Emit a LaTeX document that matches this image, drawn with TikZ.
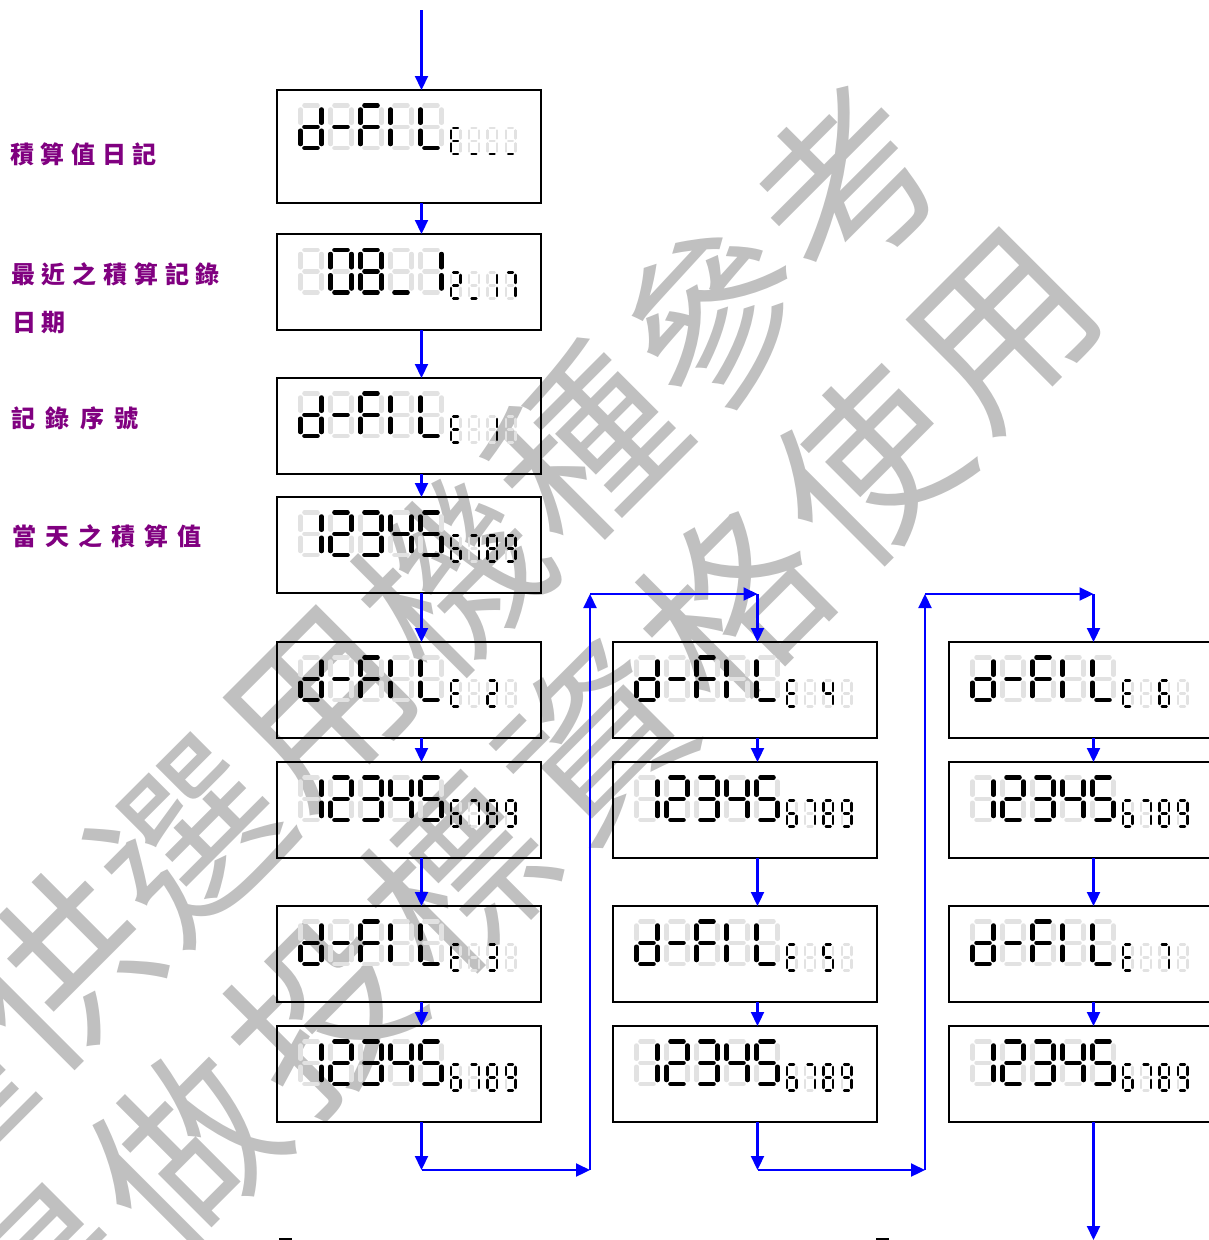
\documentclass[tikz,border=0pt]{standalone}
\usepackage{fontspec}
\newfontfamily\cjk{Noto Sans CJK TC}
\usetikzlibrary{arrows.meta}
\definecolor{wmgray}{HTML}{C0C0C0}
\definecolor{lcdghost}{HTML}{E2E2E2}
\definecolor{lblpurple}{HTML}{800080}
\definecolor{flowblue}{HTML}{0000FF}
\newcommand\segdraw[1]{\draw #1;}
\def\gx{.19}\def\gy{.094}
\def\sega{(\gx,0)--(1-\gx,0)}
\def\segb{(1,\gy)--(1,.5-\gy)}
\def\segc{(1,.5+\gy)--(1,1-\gy)}
\def\segd{(\gx,1)--(1-\gx,1)}
\def\sege{(0,.5+\gy)--(0,1-\gy)}
\def\segf{(0,\gy)--(0,.5-\gy)}
\def\segg{(\gx,.5)--(1-\gx,.5)}
\def\segnone{}
\def\DGnone{none}
\def\DGd{b,c,d,e,g}
\def\DGdash{g}
\def\DGF{a,e,f,g}
\def\DGI{e,f}
\def\DGL{d,e,f}
\def\DGE{a,d,e,f,g}
\def\DGund{d}
\def\DGzero{a,b,c,d,e,f}
\def\DGone{b,c}
\def\DGtwo{a,b,d,e,g}
\def\DGthree{a,b,c,d,g}
\def\DGfour{b,c,f,g}
\def\DGfive{a,c,d,f,g}
\def\DGsix{a,c,d,e,f,g}
\def\DGseven{a,b,c}
\def\DGeight{a,b,c,d,e,f,g}
\def\DGnine{a,b,c,d,f,g}
\newcommand\lcdcell[6]{%
 \begin{scope}[shift={(#1,#2)},x=#3pt,y=-#4pt,line width=#5pt,line cap=round]
  \begin{scope}[color=lcdghost]
   \foreach \s in {a,b,c,d,e,f,g}{\expandafter\segdraw\csname seg\s\endcsname}
  \end{scope}
  \begin{scope}[color=black]
   \foreach \s in #6{\expandafter\segdraw\csname seg\s\endcsname}
  \end{scope}
 \end{scope}}
\newcommand\bigrow[7]{%
 \def\gx{.19}\def\gy{.094}%
 \lcdcell{#1+23.5}{#2+15.5}{21}{42.5}{4.5}{#3}
 \lcdcell{#1+53.5}{#2+15.5}{21}{42.5}{4.5}{#4}
 \lcdcell{#1+83.5}{#2+15.5}{21}{42.5}{4.5}{#5}
 \lcdcell{#1+113.5}{#2+15.5}{21}{42.5}{4.5}{#6}
 \lcdcell{#1+143.5}{#2+15.5}{21}{42.5}{4.5}{#7}}
\newcommand\smallrow[6]{%
 \def\gx{.25}\def\gy{.093}%
 \lcdcell{#1+173.8}{#2+38.5}{9.6}{25.9}{2.4}{#3}
 \lcdcell{#1+192.1}{#2+38.5}{9.6}{25.9}{2.4}{#4}
 \lcdcell{#1+210.4}{#2+38.5}{9.6}{25.9}{2.4}{#5}
 \lcdcell{#1+228.7}{#2+38.5}{9.6}{25.9}{2.4}{#6}}
\newcommand\numrow[2]{%
 \bigrow{#1}{#2}{\DGone}{\DGtwo}{\DGthree}{\DGfour}{\DGfive}
 \smallrow{#1}{#2}{\DGsix}{\DGseven}{\DGeight}{\DGnine}}
\newcommand\filrow[3]{%
 \bigrow{#1}{#2}{\DGd}{\DGdash}{\DGF}{\DGI}{\DGL}
 \smallrow{#1}{#2}{\DGE}{\DGnone}{#3}{\DGnone}}
\tikzset{
 lcdbox/.style={draw=black,line width=1.8pt,minimum width=264pt,inner sep=0pt,outer sep=0pt},
 flow/.style={draw=flowblue,line width=2.2pt,-{Triangle[length=14pt,width=13pt]}},
 lbl/.style={text=lblpurple,font=\cjk\bfseries\fontsize{24pt}{28pt}\selectfont,anchor=west,inner sep=0pt},
 wm/.style={text=wmgray,font=\cjk\fontsize{180pt}{180pt}\selectfont,rotate=45,inner sep=0pt}
}
\begin{document}
\begin{tikzpicture}[x=1pt,y=-1pt]
\useasboundingbox (0,0) rectangle (1209,1240);
\begin{scope}
\clip (0,0) rectangle (1209,1240);
% watermark line 1
\node[wm] (wa0) at (-71,1101) {僅};
\node[wm] (wa1) at (60,970) {供};
\node[wm] (wa2) at (191,839) {選};
\node[wm] (wa3) at (322,708) {用};
\node[wm] (wa4) at (453,577) {機};
\node[wm] (wa5) at (584,446) {種};
\node[wm] (wa6) at (715,315) {參};
\node[wm] (wa7) at (846,184) {考};
% watermark line 2
\node[wm] (wb0) at (48,1287) {得};
\node[wm] (wb1) at (185,1150) {做};
\node[wm] (wb2) at (322,1013) {投};
\node[wm] (wb3) at (458,877) {標};
\node[wm] (wb4) at (595,740) {資};
\node[wm] (wb5) at (732,603) {格};
\node[wm] (wb6) at (868,467) {使};
\node[wm] (wb7) at (1005,330) {用};
\end{scope}

% labels
\node[lbl] (l1) at (10,154.5) {積\kern6.7pt 算\kern6.7pt 值\kern6.7pt 日\kern6.7pt 記};
\node[lbl] (l2) at (11,274.5) {最\kern6.8pt 近\kern6.8pt 之\kern6.8pt 積\kern6.8pt 算\kern6.8pt 記\kern6.8pt 錄};
\node[lbl] (l3) at (12,323) {日\kern5pt 期};
\node[lbl] (l4) at (11,418.5) {記\kern10.5pt 錄\kern10.5pt 序\kern10.5pt 號};
\node[lbl] (l5) at (12,536) {當\kern9pt 天\kern9pt 之\kern9pt 積\kern9pt 算\kern9pt 值};

% boxes column 1
\node[lcdbox,minimum height=113pt] (c1r0) at (409,146.5) {};
\node[lcdbox,minimum height=96pt] (c1r1) at (409,282) {};
\node[lcdbox,minimum height=96pt] (c1r2) at (409,426) {};
\node[lcdbox,minimum height=96pt] (c1r3) at (409,545) {};
\node[lcdbox,minimum height=96pt] (c1r4) at (409,690) {};
\node[lcdbox,minimum height=96pt] (c1r5) at (409,810) {};
\node[lcdbox,minimum height=96pt] (c1r6) at (409,954) {};
\node[lcdbox,minimum height=96pt] (c1r7) at (409,1074) {};
% column 2
\node[lcdbox,minimum height=96pt] (c2r4) at (745,690) {};
\node[lcdbox,minimum height=96pt] (c2r5) at (745,810) {};
\node[lcdbox,minimum height=96pt] (c2r6) at (745,954) {};
\node[lcdbox,minimum height=96pt] (c2r7) at (745,1074) {};
% column 3
\node[lcdbox,minimum height=96pt] (c3r4) at (1081,690) {};
\node[lcdbox,minimum height=96pt] (c3r5) at (1081,810) {};
\node[lcdbox,minimum height=96pt] (c3r6) at (1081,954) {};
\node[lcdbox,minimum height=96pt] (c3r7) at (1081,1074) {};

% displays
\bigrow{277}{90}{\DGd}{\DGdash}{\DGF}{\DGI}{\DGL}
\smallrow{277}{89.5}{\DGE}{\DGund}{\DGund}{\DGund}
\bigrow{277}{234.5}{\DGnone}{\DGzero}{\DGeight}{\DGund}{\DGone}
\smallrow{277}{234}{\DGtwo}{\DGund}{\DGone}{\DGseven}
\filrow{277}{378}{\DGone}
\numrow{277}{497}
\filrow{277}{642}{\DGtwo}
\numrow{277}{762}
\filrow{277}{906}{\DGthree}
\numrow{277}{1026}
\filrow{613}{642}{\DGfour}
\numrow{613}{762}
\filrow{613}{906}{\DGfive}
\numrow{613}{1026}
\filrow{949}{642}{\DGsix}
\numrow{949}{762}
\filrow{949}{906}{\DGseven}
\numrow{949}{1026}

% connectors
\coordinate (k1) at (421.5,10);
\coordinate (k2) at (757.5,594);
\coordinate (k3) at (1093.5,594);
\draw[flow] (k1) -- (c1r0.north -| k1);
\draw[flow] (c1r0.south -| k1) -- (c1r1.north -| k1);
\draw[flow] (c1r1.south -| k1) -- (c1r2.north -| k1);
\draw[flow] (c1r2.south -| k1) -- (c1r3.north -| k1);
\draw[flow] (c1r3.south -| k1) -- (c1r4.north -| k1);
\draw[flow] (c1r4.south -| k1) -- (c1r5.north -| k1);
\draw[flow] (c1r5.south -| k1) -- (c1r6.north -| k1);
\draw[flow] (c1r6.south -| k1) -- (c1r7.north -| k1);
\coordinate (t1) at (421.5,1170);
\coordinate (u1) at (590,1170);
\coordinate (v1) at (590,594);
\draw[flow] (c1r7.south -| k1) -- (t1);
\draw[flow] (t1) -- (u1);
\draw[flow] (u1) -- (v1);
\draw[flow] (v1) -- (k2);
\draw[flow] (k2) -- (c2r4.north -| k2);
\draw[flow] (c2r4.south -| k2) -- (c2r5.north -| k2);
\draw[flow] (c2r5.south -| k2) -- (c2r6.north -| k2);
\draw[flow] (c2r6.south -| k2) -- (c2r7.north -| k2);
\coordinate (t2) at (757.5,1170);
\coordinate (u2) at (925,1170);
\coordinate (v2) at (925,594);
\draw[flow] (c2r7.south -| k2) -- (t2);
\draw[flow] (t2) -- (u2);
\draw[flow] (u2) -- (v2);
\draw[flow] (v2) -- (k3);
\draw[flow] (k3) -- (c3r4.north -| k3);
\draw[flow] (c3r4.south -| k3) -- (c3r5.north -| k3);
\draw[flow] (c3r5.south -| k3) -- (c3r6.north -| k3);
\draw[flow] (c3r6.south -| k3) -- (c3r7.north -| k3);
\coordinate (endp) at (1093.5,1240);
\draw[flow] (c3r7.south -| k3) -- (endp);

% cut-off marks at the bottom edge
\draw[line width=2pt] (279,1238.5) -- (292,1238.5);
\draw[line width=2pt] (876,1238.5) -- (889,1238.5);
\end{tikzpicture}
\end{document}
